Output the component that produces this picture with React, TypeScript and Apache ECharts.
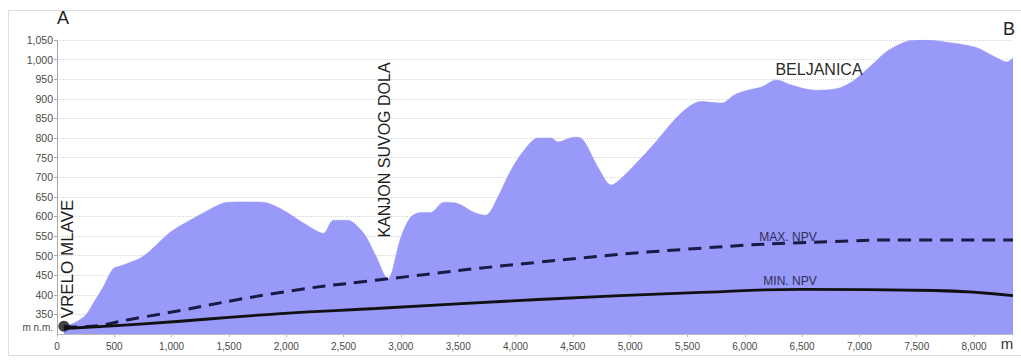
import React, { useEffect, useRef } from "react";
import * as echarts from "echarts";

// Terrain profile (distance in m, elevation in m a.s.l.)
const profileDist = [60, 150, 250, 315, 400, 490, 570, 650, 725, 815, 990, 1160, 1400, 1485, 1650, 1800, 1975, 2150, 2325, 2410, 2535, 2675, 2780, 2885, 3000, 3085, 3173, 3260, 3375, 3495, 3640, 3740, 3845, 3960, 4075, 4195, 4310, 4370, 4510, 4570, 4720, 4835, 4950, 5185, 5450, 5620, 5796, 5909, 6000, 6145, 6276, 6407, 6608, 6818, 6958, 7107, 7255, 7456, 7600, 7745, 8007, 8182, 8287, 8340];
const profileElev = [320, 328, 348, 378, 418, 467, 475, 484, 493, 513, 560, 590, 628, 636, 637, 636, 616, 583, 557, 590, 590, 557, 500, 440, 547, 598, 610, 610, 636, 633, 610, 603, 649, 718, 769, 800, 800, 790, 802, 800, 725, 680, 705, 777, 865, 893, 889, 910, 920, 930, 948, 935, 922, 927, 948, 986, 1024, 1049, 1050, 1045, 1032, 1007, 994, 1004];

// Maximum groundwater level (dashed)
const maxNpvDist = [60, 140, 725, 1950, 2780, 4195, 5620, 6783, 7500, 8340];
const maxNpvVal = [320, 318, 342, 406, 437, 483, 519, 536, 540, 540];

// Minimum groundwater level (solid)
const minNpvDist = [60, 725, 1950, 2780, 4200, 5620, 6500, 7650, 8340];
const minNpvVal = [314, 325, 352, 365, 388, 406, 414, 411, 398];

// Spring point
const springPoint = [60, 320];

const yMin = 300;
const yMax = 1050;
const yStep = 50;
const xMax = 8340;
const xStep = 500;

const FONT = "'Liberation Sans', Arial, sans-serif";

export default function App() {
  const ref = useRef<HTMLDivElement>(null);

  useEffect(() => {
    const chart = echarts.init(ref.current!, null, { renderer: "svg" });
    const fmt = (v: number) => v.toLocaleString("en-US");
    const txt = (x: number, y: number, text: string, font: string, fill: string, align = "center", rotation = 0) => ({
      type: "text",
      x,
      y,
      rotation,
      z: 100,
      silent: true,
      style: { text, font, fill, align, verticalAlign: "middle" },
    });
    chart.setOption({
      animation: false,
      backgroundColor: "#ffffff",
      grid: { left: 57, right: 8, top: 40, bottom: 26, containLabel: false },
      xAxis: {
        type: "value",
        min: 0,
        max: xMax,
        interval: xStep,
        axisLine: { show: true, lineStyle: { color: "#bbbbbb", width: 1 } },
        axisTick: { show: true, length: 3, lineStyle: { color: "#bbbbbb" } },
        splitLine: { show: false },
        axisLabel: {
          color: "#4a4a4a",
          fontSize: 10,
          fontFamily: FONT,
          margin: 7,
          showMaxLabel: false,
          formatter: (v: number) => fmt(v),
        },
      },
      yAxis: {
        type: "value",
        min: yMin,
        max: yMax,
        interval: yStep,
        axisLine: { show: true, lineStyle: { color: "#aaaaaa", width: 1 } },
        axisTick: { show: true, length: 3, lineStyle: { color: "#aaaaaa" } },
        splitLine: { show: true, lineStyle: { color: "#d4d4d4", type: "dotted", width: 1 } },
        axisLabel: {
          color: "#4a4a4a",
          fontSize: 10.5,
          fontFamily: FONT,
          margin: 4,
          showMinLabel: false,
          formatter: (v: number) => fmt(v),
        },
      },
      series: [
        {
          type: "line",
          name: "profile",
          data: profileDist.map((d, i) => [d, profileElev[i]]),
          smooth: 0.3,
          showSymbol: false,
          lineStyle: { width: 0.5, color: "#9899f8" },
          areaStyle: { color: "#9899f8", opacity: 1 },
          z: 1,
        },
        {
          type: "line",
          name: "MAX. NPV",
          data: maxNpvDist.map((d, i) => [d, maxNpvVal[i]]),
          smooth: 0.5,
          showSymbol: false,
          lineStyle: { width: 3, color: "#1a1a44", type: [13, 8] },
          z: 3,
        },
        {
          type: "line",
          name: "MIN. NPV",
          data: minNpvDist.map((d, i) => [d, minNpvVal[i]]),
          smooth: 0.5,
          showSymbol: false,
          lineStyle: { width: 2.8, color: "#111111" },
          z: 3,
        },
        {
          type: "scatter",
          data: [springPoint],
          symbolSize: 11,
          itemStyle: { color: "#111111" },
          z: 4,
        },
      ],
      graphic: [
        {
          type: "rect",
          silent: true,
          z: -10,
          shape: { x: 8.5, y: 10.5, width: 1040, height: 345 },
          style: { fill: "none", stroke: "#dddddd", lineWidth: 1 },
        },
        txt(63, 18, "A", `18px ${FONT}`, "#222222"),
        txt(1009, 29, "B", `18px ${FONT}`, "#222222"),
        txt(67, 259, "VRELO MLAVE", `17px ${FONT}`, "#1e1e1e", "center", Math.PI / 2),
        txt(384, 150, "KANJON SUVOG DOLA", `16px ${FONT}`, "#1e1e1e", "center", Math.PI / 2),
        txt(819, 69, "BELJANICA", `16px ${FONT}`, "#2a2a2a"),
        txt(788, 237, "MAX. NPV", `12px ${FONT}`, "#2e2e5a"),
        txt(790, 281, "MIN. NPV", `12px ${FONT}`, "#2e2e5a"),
        txt(1007, 343, "m", `15px ${FONT}`, "#333333"),
        txt(53, 327, "m n.m.", `10px ${FONT}`, "#4a4a4a", "right"),
      ],
    });
    return () => chart.dispose();
  }, []);

  return (
    <div
      ref={ref}
      style={{ position: "fixed", left: 0, top: 0, width: 1021, height: 360, background: "#ffffff" }}
    />
  );
}
